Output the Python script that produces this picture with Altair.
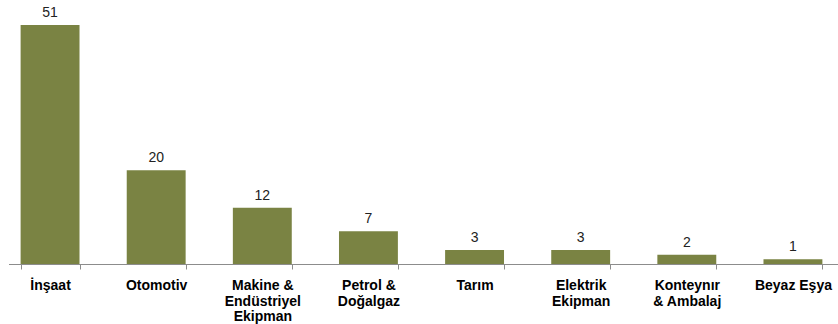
import altair as alt
import pandas as pd

categories = ["İnşaat", "Otomotiv", "Makine &|Endüstriyel|Ekipman", "Petrol &|Doğalgaz",
              "Tarım", "Elektrik|Ekipman", "Konteynır|& Ambalaj", "Beyaz Eşya"]
values = [51, 20, 12, 7, 3, 3, 2, 1]

df = pd.DataFrame({"cat": categories, "val": values})

x = alt.X("cat:N", sort=categories, title=None,
          scale=alt.Scale(range=[-3, 846], paddingInner=0.445, paddingOuter=0.2225),
          axis=alt.Axis(labelExpr="datum.value ? split(datum.value, '|') : ''", labelAngle=0,
                        labelFont="Liberation Sans", labelFontWeight="bold", labelFontSize=14,
                        labelColor="#000000", labelLineHeight=15.5, labelPadding=9.5,
                        labelBaseline="top", labelLimit=200,
                        domain=False, tickColor="#8c8c8c", tickSize=5,
                        tickBand="extent", grid=False))
y = alt.Y("val:Q", title=None, scale=alt.Scale(domain=[0, 51], range=[264, 25], nice=False, zero=True),
          axis=None)

bars = alt.Chart(df).mark_bar(color="#7A8343").encode(x=x, y=y)
labels = alt.Chart(df).mark_text(baseline="bottom", dy=-5, font="Liberation Sans", fontSize=14,
                                 color="#222222").encode(x=x, y=y, text="val:Q")
baseline = alt.Chart(df).mark_rule(color="#8c8c8c", strokeWidth=1).encode(
    x=alt.value(9), x2=alt.value(838), y=alt.value(264.5))

chart = (bars + labels + baseline).properties(
    width=838, height=264,
    autosize=alt.AutoSizeParams(type="none"),
    padding={"left": 0, "right": 0, "top": 0, "bottom": 60},
).configure_view(stroke=None)

chart.save("out.html", embed_options={"renderer": "svg", "actions": False})
